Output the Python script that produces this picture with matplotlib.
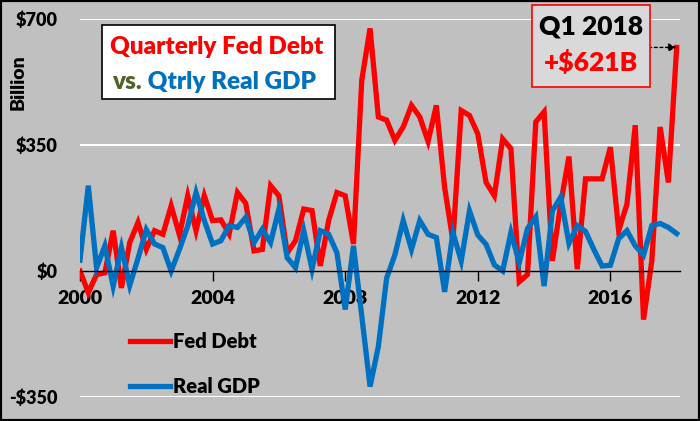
import numpy as np
import matplotlib
matplotlib.use('Agg')
import matplotlib.pyplot as plt
from matplotlib.patches import Rectangle
from matplotlib.text import Annotation

plt.rcParams['font.family'] = ['Lato', 'DejaVu Sans']
plt.rcParams['font.weight'] = 'heavy'

# quarterly changes, $ billion, Q1 2000 .. Q1 2018
quarters = 2000 + np.arange(73) / 4

fed_debt = [0, -60, -10, -5, 112, -47, 79, 135, 60, 112, 102, 181, 100,
            209, 112, 209, 140, 142, 103, 218, 188, 56, 60, 237, 209,
            50, 84, 172, 168, 14, 140, 218, 209, 75, 530, 674, 428,
            419, 363, 400, 460, 428, 360, 460, 232, 84, 446, 432, 381,
            246, 209, 367, 340, -30, -10, 414, 442, 28, 186, 318, 5,
            256, 256, 256, 344, 112, 186, 405, -135, 28, 400, 246, 621]

real_gdp = [30, 237, 9, 70, -42, 65, -40, 35, 115, 75, 65, 0, 60,
            125, 218, 140, 75, 84, 126, 121, 149, 79, 116, 79, 172,
            37, 9, 112, 5, 112, 102, 51, -107, 70, -125, -321, -210,
            -20, 45, 140, 60, 140, 102, 93, -58, 107, 28, 167, 100,
            74, 17, 0, 107, 23, 118, 150, -42, 167, 205, 77, 126,
            110, 60, 14, 16, 90, 112, 70, 44, 126, 132, 121, 104]

year_ticks = [2000, 2004, 2008, 2012, 2016]
y_ticks = [-350, 0, 350, 700]
y_labels = ['-$350', '$0', '$350', '$700']

bg = '#C0C0C0'
red = '#FF0000'
blue = '#0070C0'
W = 'heavy'

fig = plt.figure(figsize=(7, 4.21), dpi=100, facecolor=bg)
ax = fig.add_axes([80 / 700, 24 / 421, 600 / 700, 378 / 421])
ax.set_facecolor(bg)

ax.plot(quarters, fed_debt, color=red, lw=3.8, label='Fed Debt', solid_joinstyle='miter')
ax.plot(quarters, real_gdp, color=blue, lw=3.8, label='Real GDP', solid_joinstyle='miter')

ax.set_xlim(2000, 2018.1)
ax.set_ylim(-350, 700)

for v in [-350, 350, 700]:
    ax.axhline(v, color='white', lw=1.5, zorder=0)

for s in ['top', 'right', 'left']:
    ax.spines[s].set_visible(False)
ax.spines['bottom'].set_position(('data', 0))
ax.spines['bottom'].set_color('black')
ax.spines['bottom'].set_linewidth(1)

ax.set_xticks(year_ticks)
ax.set_xticklabels([str(y) for y in year_ticks], fontsize=14, fontweight=W)
ax.tick_params(axis='x', direction='out', length=7, width=1, pad=7)
ax.set_yticks(y_ticks)
ax.set_yticklabels(y_labels, fontsize=13, fontweight=W)
ax.tick_params(axis='y', length=0, pad=16)

fig.text(18 / 700, 1 - 82 / 421, 'Billion', rotation=90, ha='center', va='center',
         fontsize=14, fontweight=W)

# title box
fig.patches.append(Rectangle((102 / 700, 1 - 99 / 421), 233 / 700, 74 / 421,
                             transform=fig.transFigure, facecolor='white',
                             edgecolor='black', lw=1.2))
fig.text(217 / 700, 1 - 47 / 421, 'Quarterly Fed Debt', color=red, ha='center', va='center',
         fontsize=17.5, fontweight=W)
vs = fig.text(112 / 700, 1 - 82 / 421, 'vs.', color='#4F6228', ha='left', va='center',
              fontsize=17.5, fontweight=W)
fig.add_artist(Annotation(' Qtrly Real GDP', xy=(1, 0.5), xycoords=vs, ha='left', va='center',
                          color=blue, fontsize=17.5, fontweight=W))

# Q1 2018 callout
fig.patches.append(Rectangle((532 / 700, 1 - 87 / 421), 118 / 700, 82 / 421,
                             transform=fig.transFigure, facecolor='#D9D9D9',
                             edgecolor=red, lw=1.2))
fig.text(591 / 700, 1 - 27 / 421, 'Q1 2018', color='black', ha='center', va='center',
         fontsize=19, fontweight=W)
fig.text(591 / 700, 1 - 63 / 421, '+$621B', color=red, ha='center', va='center',
         fontsize=19, fontweight=W)
ax.annotate('', xy=(quarters[-1], fed_debt[-1]), xytext=(-20, 0), textcoords='offset points',
            arrowprops=dict(arrowstyle='-|>', linestyle=(0, (2, 2)), color='black',
                            lw=1, mutation_scale=12, shrinkA=0, shrinkB=0))

ax.legend(loc='upper left', bbox_to_anchor=(0.083, 0.172), frameon=False,
          handlelength=2.0, handletextpad=0.15, labelspacing=1.3,
          borderpad=0, borderaxespad=0, prop={'weight': W, 'size': 14.5})

# outer frame
fig.patches.append(Rectangle((0, 0), 1, 1, transform=fig.transFigure, fill=False,
                             edgecolor='black', lw=3))

plt.savefig('out.png', dpi=100, facecolor=bg)
